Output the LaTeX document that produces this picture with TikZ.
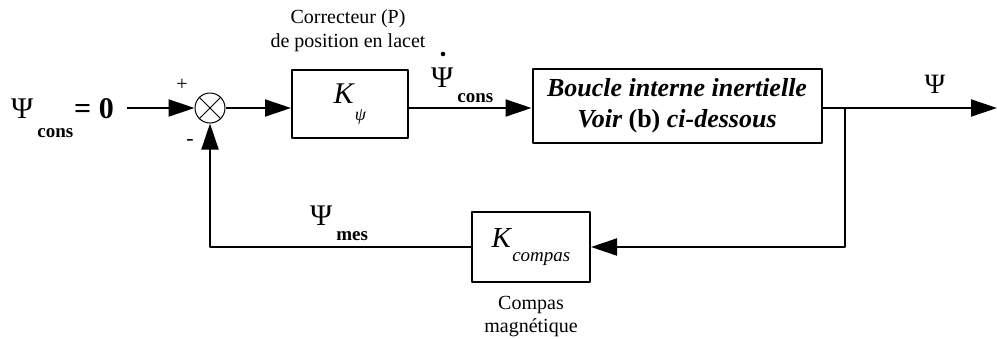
\documentclass[tikz,border=0pt]{standalone}
\usepackage{fontspec}
\setmainfont{Liberation Serif}
\usepackage{tikz}
\usetikzlibrary{arrows.meta,calc}

\newcommand{\fs}[1]{\fontsize{#1}{#1}\selectfont}
\newcommand{\lowsub}[2]{\hspace{4pt}\raisebox{#1}{\fs{19}\bfseries #2}}

\begin{document}
\begin{tikzpicture}[x=1pt,y=-1pt,>={Triangle[length=26pt,width=17pt]},line join=round,
  wire/.style={line width=2pt},
  blockbox/.style={draw,line width=2pt,inner sep=0pt,align=center},
  lbl/.style={inner sep=0pt,align=center}]
  \useasboundingbox (0,0) rectangle (997,338);
  % blocks
  \node[draw,circle,line width=1pt,minimum size=30pt,inner sep=0pt] (sum) at (210,108) {};
  \draw[line width=1pt] (sum.north west) -- (sum.south east);
  \draw[line width=1pt] (sum.north east) -- (sum.south west);
  \node[blockbox,minimum width=116pt,minimum height=68pt] (kpsi) at (350,104)
    {\fs{30}\textit{K}\raisebox{-17pt}{\fs{18}\textit{ψ}}};
  \node[blockbox,minimum width=289pt,minimum height=74pt,
    font=\fontsize{26}{31}\selectfont\bfseries\itshape] (boucle) at (677,106)
    {Boucle interne inertielle\\Voir {\upshape (b)} ci-dessous};
  \node[blockbox,minimum width=118pt,minimum height=70pt] (kcomp) at (531,247)
    {\fs{29}\textit{K}\raisebox{-14pt}{\fs{19}\textit{compas}}};
  \coordinate (in) at (127,108);
  \coordinate (br) at (845,108);
  \coordinate (out) at (997,108);
  % connectors
  \draw[wire,->] (in) -- (sum.west);
  \draw[wire,->] (sum.east) -- (sum.east -| kpsi.west);
  \draw[wire,->] (kpsi.east |- sum) -- (boucle.west |- sum);
  \draw[wire] (boucle.east |- sum) -- (br);
  \draw[wire,->] (br) -- (out);
  \draw[wire,->] (br) |- (kcomp.east);
  \draw[wire,->] (kcomp.west) -| (sum.south);
  % labels
  \node[lbl,anchor=base west] (psicons) at (11,118)
    {\fs{30}Ψ\lowsub{-19pt}{cons}\hspace{1pt}\bfseries = 0};
  \node[lbl] (plus) at (182,85) {\fs{20}+};
  \node[lbl] (minus) at (190,142) {\fs{22}-};
  \node[lbl,font=\fontsize{20}{24}\selectfont] (corr) at (348,31) {Correcteur (P)\\de position en lacet};
  \node[lbl,anchor=base west] (psidot) at (431,87) {\fs{30}Ψ\lowsub{-15pt}{cons}};
  \fill (443,54) circle (2.3pt);
  \node[lbl] (psiout) at (935,84) {\fs{28}Ψ};
  \node[lbl,anchor=base west] (psimes) at (310,225) {\fs{30}Ψ\lowsub{-15pt}{mes}};
  \node[lbl,font=\fontsize{20}{23}\selectfont] (compas) at (531,317) {Compas\\magnétique};
\end{tikzpicture}
\end{document}
